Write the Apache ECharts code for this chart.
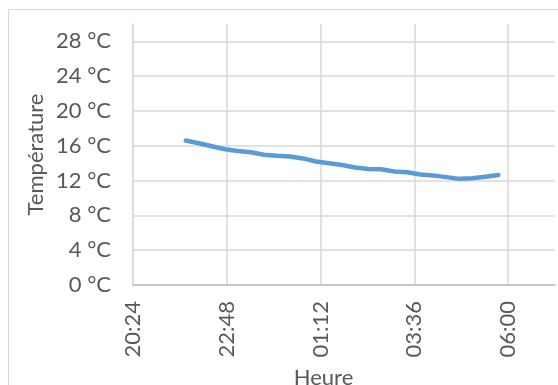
<!DOCTYPE html>
<html>
<head>
<meta charset="utf-8">
<script src="https://cdn.jsdelivr.net/npm/echarts@6/dist/echarts.min.js"></script>
<style>
  html, body { margin: 0; padding: 0; background: #fff; }
  #chart { width: 558px; height: 385px; }
</style>
</head>
<body>
<div id="chart"></div>
<script>
// Overnight temperature readings (clock time, °C)
const readingTimes = ['21:45', '22:05', '22:25', '22:45', '23:05', '23:25', '23:45',
  '00:05', '00:25', '00:45', '01:05', '01:25', '01:45', '02:05', '02:25', '02:45',
  '03:05', '03:25', '03:45', '04:05', '04:25', '04:45', '05:05', '05:25', '05:45'];
const temperatures = [16.6, 16.3, 15.95, 15.6, 15.4, 15.25, 14.97,
  14.85, 14.78, 14.55, 14.2, 14.0, 13.8, 13.5, 13.33, 13.3,
  13.05, 12.95, 12.7, 12.6, 12.4, 12.2, 12.28, 12.45, 12.65];

// Time axis: starts at 20:24, labelled every 2 h 24 min (20:24 … 06:00)
const axisStart = '20:24';
const axisStepMinutes = 144;
const axisSpanMinutes = 648;
// Temperature axis: 0 °C to 28 °C every 4 °C
const tempStep = 4;
const tempTop = 30;

const toMinutes = s => { const [h, m] = s.split(':').map(Number); return h * 60 + m; };
const startMin = toMinutes(axisStart);
const offsetOf = s => (toMinutes(s) - startMin + 1440) % 1440;
const clockOf = v => {
  const t = (startMin + v) % 1440;
  return String(Math.floor(t / 60)).padStart(2, '0') + ':' + String(t % 60).padStart(2, '0');
};

const seriesData = readingTimes.map((t, i) => [offsetOf(t), temperatures[i]]);

const textColor = '#595959';
const gridColor = '#d9d9d9';
const font = 'Lato';
const fontSize = 22;

const chart = echarts.init(document.getElementById('chart'), null, { renderer: 'canvas' });
chart.setOption({
  animation: false,
  backgroundColor: '#ffffff',
  graphic: [{
    type: 'rect',
    shape: { x: 8.5, y: 9.5, width: 620, height: 420 },
    style: { fill: 'none', stroke: gridColor, lineWidth: 1 },
    silent: true,
    z: -10
  }],
  grid: { left: 133, right: 3, top: 24, bottom: 100, containLabel: false, outerBoundsMode: 'none' },
  xAxis: {
    type: 'value',
    min: 0,
    max: axisSpanMinutes,
    interval: axisStepMinutes,
    name: 'Heure',
    nameLocation: 'middle',
    nameGap: 82,
    nameMoveOverlap: false,
    nameTextStyle: { color: textColor, fontFamily: font, fontSize: fontSize, padding: [0, 41, 0, 0] },
    axisLine: { show: true, lineStyle: { color: '#bfbfbf', width: 1.5 } },
    axisTick: { show: false },
    axisLabel: {
      rotate: 90,
      margin: 16,
      color: textColor,
      fontFamily: font,
      fontSize: fontSize,
      showMaxLabel: false,
      formatter: v => (v > axisSpanMinutes - axisStepMinutes / 2 ? '' : clockOf(v))
    },
    splitLine: { show: true, showMaxLine: false, lineStyle: { color: gridColor, width: 1.5 } }
  },
  yAxis: {
    type: 'value',
    min: 0,
    max: tempTop,
    interval: tempStep,
    name: 'Température',
    nameLocation: 'middle',
    nameGap: 86,
    nameMoveOverlap: false,
    nameTextStyle: { color: textColor, fontFamily: font, fontSize: fontSize },
    axisLine: { show: true, lineStyle: { color: gridColor, width: 1.5 } },
    axisTick: { show: false },
    axisLabel: {
      margin: 22,
      color: textColor,
      fontFamily: font,
      fontSize: fontSize,
      showMaxLabel: false,
      formatter: v => (v > tempTop - tempStep / 2 ? '' : v + ' °C')
    },
    splitLine: { show: true, showMaxLine: false, lineStyle: { color: gridColor, width: 1.5 } }
  },
  series: [{
    type: 'line',
    data: seriesData,
    showSymbol: false,
    smooth: false,
    lineStyle: { color: '#5b9bd5', width: 4.5, cap: 'round', join: 'round' },
    itemStyle: { color: '#5b9bd5' }
  }]
});
</script>
</body>
</html>
